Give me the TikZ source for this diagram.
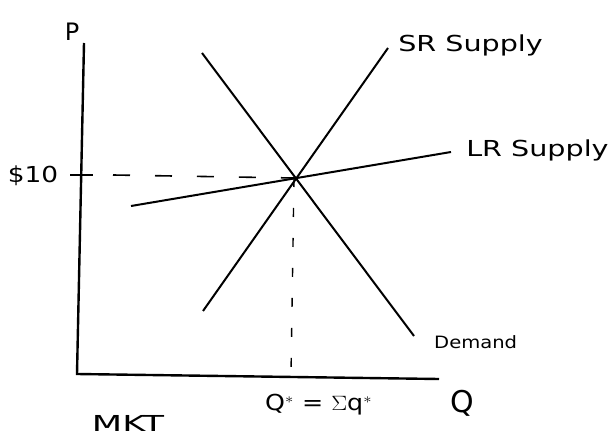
\documentclass[tikz,border=0pt]{standalone}
\usepackage{fontspec}
\setmainfont{DejaVu Sans}
\begin{document}
\begin{tikzpicture}[x=1pt,y=-1pt,
  axis/.style={line width=2.4pt},
  curve/.style={line width=2pt},
  hguide/.style={line width=1.6pt,dash pattern=on 17pt off 25pt},
  vguide/.style={line width=1.4pt,dash pattern=on 9pt off 21pt},
  lbl/.style={font=\fontsize{22}{26}\selectfont, inner sep=0pt}]
\useasboundingbox[fill=white] (0,0) rectangle (612,438);
% axes
\coordinate (ytop) at (84,43);
\coordinate (orig) at (77,374);
\coordinate (xend) at (439,379);
\draw[axis] (ytop) -- (orig) -- (xend);
% tick
\coordinate (tickL) at (70,175);
\coordinate (tickR) at (93,175);
\draw[line width=1.8pt] (tickL) -- (tickR);
% curves
\coordinate (lrA) at (131,206);
\coordinate (lrB) at (451,152);
\coordinate (srA) at (203,311);
\coordinate (srB) at (388,48);
\coordinate (dA) at (202,53);
\coordinate (dB) at (414,336);
\coordinate (eq) at (294,178);
\coordinate (qstar) at (291,374);
\coordinate (gs) at (113,175);
\draw[curve] (lrA) -- (lrB);
\draw[curve] (srA) -- (srB);
\draw[curve] (dA) -- (dB);
% guides
\draw[hguide] (gs) -- (eq);
\draw[vguide] (eq) -- (qstar);
% labels
\node[lbl,font=\fontsize{24}{28}\selectfont] (P) at (72,32) {P};
\node[lbl,xscale=1.2] (ten) at (33,176) {\$10};
\node[lbl,anchor=west,xscale=1.3] (sr) at (398,45) {SR Supply};
\node[lbl,anchor=west,xscale=1.3] (lr) at (466,150) {LR Supply};
\node[lbl,anchor=west,font=\fontsize{17}{20}\selectfont,xscale=1.15] (dem) at (434,342) {Demand};
\node[lbl,font=\fontsize{30}{34}\selectfont] (Q) at (462,403) {Q};
\node[lbl,anchor=west,xscale=1.15] (qs) at (265,405) {Q$^{*}$ = $\Sigma$q$^{*}$};
\node[lbl,anchor=base,xscale=1.6] (mkt) at (128,431) {MKT};
\end{tikzpicture}
\end{document}
